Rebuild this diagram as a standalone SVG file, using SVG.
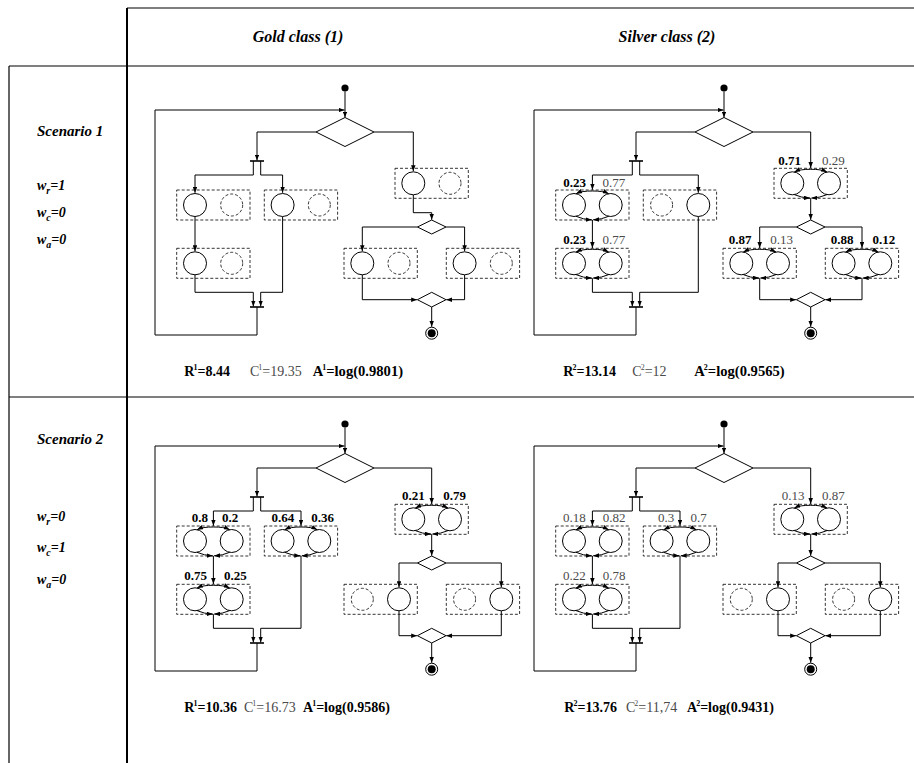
<svg xmlns="http://www.w3.org/2000/svg" xmlns:xlink="http://www.w3.org/1999/xlink" width="914" height="763" viewBox="0 0 914 763">
<style>
text{font-family:"Liberation Serif","Times New Roman",serif}
.hd{font-size:16px;font-weight:bold;font-style:italic}
.sc{font-size:15px;font-weight:bold;font-style:italic}
.wl{font-size:14px;font-weight:bold;font-style:italic}
.lb{font-size:13px;text-anchor:middle}
.b{font-weight:bold;fill:#000}
.g{fill:#4a4a4a}
.bt{font-size:14px}
.bta{font-size:14.6px}
.ln{fill:none;stroke:#000;stroke-width:1}
.ar{fill:none;stroke:#000;stroke-width:1;marker-end:url(#a)}
.bar{stroke:#000;stroke-width:1.6}
.bx{fill:none;stroke:#000;stroke-width:0.8;stroke-dasharray:3,2}
.cs{fill:#fff;stroke:#000;stroke-width:1}
.cd{fill:none;stroke:#000;stroke-width:0.8;stroke-dasharray:3,2}
.dm{fill:#fff;stroke:#000;stroke-width:1}
.tb{stroke:#000;stroke-width:1.2}
</style>
<defs>
<marker id="a" viewBox="0 0 8 6" refX="8" refY="3" markerWidth="6" markerHeight="4.5" orient="auto" markerUnits="userSpaceOnUse"><path d="M0,0 L8,3 L0,6 z" fill="#000"/></marker>
<g id="sL"><rect class="bx" x="0" y="0" width="73.3" height="30"/><circle class="cs" cx="18.3" cy="15" r="11.5"/><circle class="cd" cx="55" cy="15" r="11"/></g>
<g id="sR"><rect class="bx" x="0" y="0" width="73.3" height="30"/><circle class="cd" cx="18.3" cy="15" r="11"/><circle class="cs" cx="55" cy="15" r="11.5"/></g>
<g id="dbl"><rect class="bx" x="0" y="0" width="73.3" height="30"/><circle class="cs" cx="18.3" cy="15" r="11.5"/><circle class="cs" cx="55" cy="15" r="11.5"/>
<path class="ar" d="M36.7,1 Q26.3,0.8 20.3,3.7"/><path class="ar" d="M36.7,1 Q47,0.8 53,3.7"/><path class="ar" d="M20.3,26.3 Q27.3,29.5 36,29.8"/><path class="ar" d="M53,26.3 Q46,29.5 37.4,29.8"/></g>
<g id="endn"><circle cx="0" cy="0" r="6" fill="#fff" stroke="#000" stroke-width="1"/><circle cx="0" cy="0" r="4" fill="#000"/></g>
</defs>
<rect x="0" y="0" width="914" height="763" fill="#fff"/>
<g id="table">
<line class="tb" x1="127" y1="8" x2="914" y2="8"/>
<line class="tb" x1="9" y1="66" x2="914" y2="66"/>
<line class="tb" x1="9" y1="397" x2="914" y2="397"/>
<line class="tb" x1="9" y1="66" x2="9" y2="763"/>
<line x1="127" y1="8" x2="127" y2="763" stroke="#000" stroke-width="2"/>
</g>
<g id="headers">
<text class="hd" x="298" y="42" text-anchor="middle">Gold class (1)</text>
<text class="hd" x="667" y="42" text-anchor="middle">Silver class (2)</text>
<text class="sc" x="37" y="136">Scenario 1</text>
<text class="wl" x="37" y="190">w<tspan font-size="10" dy="4">r</tspan><tspan dy="-4">=1</tspan></text>
<text class="wl" x="37" y="217">w<tspan font-size="10" dy="4">c</tspan><tspan dy="-4">=0</tspan></text>
<text class="wl" x="37" y="244">w<tspan font-size="10" dy="4">a</tspan><tspan dy="-4">=0</tspan></text>
<text class="sc" x="37" y="444">Scenario 2</text>
<text class="wl" x="37" y="521">w<tspan font-size="10" dy="4">r</tspan><tspan dy="-4">=0</tspan></text>
<text class="wl" x="37" y="552">w<tspan font-size="10" dy="4">c</tspan><tspan dy="-4">=1</tspan></text>
<text class="wl" x="37" y="584">w<tspan font-size="10" dy="4">a</tspan><tspan dy="-4">=0</tspan></text>
</g>

<!-- Panel 1: Gold, scenario 1 -->
<g id="p1">
<g id="p1-connectors">
<path class="ar" d="M345,91.5 V117.5"/>
<path class="ar" d="M257,307 V335 H155 V110 H344.5"/>
<path class="ar" d="M316,132 H257 V160.5"/>
<path class="ar" d="M253.3,161 V175 H195 V192.8"/>
<path class="ar" d="M260.7,161 V175 H282.6 V192.8"/>
<path class="ar" d="M195,216.5 V251.3"/>
<path class="ar" d="M195,274.8 V292.3 H253.3 V306.5"/>
<path class="ar" d="M282.6,216.5 V292.3 H260.7 V306.5"/>
<path class="ar" d="M374,132 H413.3 V171.3"/>
<path class="ar" d="M413.3,194.8 V212.7 H431.7 V219.8"/>
<path class="ar" d="M417.4,227 H362.3 V251.3"/>
<path class="ar" d="M446,227 H464.6 V251.3"/>
<path class="ar" d="M362.3,274.8 V299.7 H417.2"/>
<path class="ar" d="M464.6,274.8 V299.7 H446.2"/>
<path class="ar" d="M431.7,307 V326.8"/>
<line class="bar" x1="250" y1="161" x2="264" y2="161"/>
<line class="bar" x1="250" y1="307" x2="264" y2="307"/>
</g>
<g id="p1-start"><circle cx="345" cy="88" r="3.6" fill="#000"/></g>
<g id="p1-dec"><polygon class="dm" points="345,117.5 374,132 345,146.5 316,132"/></g>
<g id="p1-A"><use xlink:href="#sL" x="176.7" y="190"/></g>
<g id="p1-B"><use xlink:href="#sL" x="264.3" y="190"/></g>
<g id="p1-C"><use xlink:href="#sL" x="176.7" y="248.3"/></g>
<g id="p1-D"><use xlink:href="#sL" x="395" y="168.3"/></g>
<g id="p1-E"><use xlink:href="#sL" x="344" y="248.3"/></g>
<g id="p1-F"><use xlink:href="#sL" x="446.3" y="248.3"/></g>
<g id="p1-dec2"><polygon class="dm" points="431.7,220 446,227 431.7,234 417.4,227"/></g>
<g id="p1-merge"><polygon class="dm" points="431.7,292.3 446,299.7 431.7,307 417.4,299.7"/></g>
<g id="p1-end"><use xlink:href="#endn" x="431.7" y="333.2"/></g>
<g id="p1-metrics">
<text class="bt b" x="184.3" y="376">R<tspan font-size="8" dx="-1" dy="-6">1</tspan><tspan dy="6">=8.44</tspan></text>
<text class="bt g" x="250" y="376">C<tspan font-size="8" dx="-1" dy="-6">1</tspan><tspan dy="6">=19.35</tspan></text>
<text class="bta b" x="312.7" y="376">A<tspan font-size="8" dx="-1" dy="-6">1</tspan><tspan dy="6">=log(0.9801)</tspan></text>
</g>
</g>

<!-- Panel 2: Silver, scenario 1 -->
<g id="p2" transform="translate(379,0)">
<g id="p2-connectors">
<path class="ar" d="M345,91.5 V117.5"/>
<path class="ar" d="M257,307 V335 H155 V110 H344.5"/>
<path class="ar" d="M316,132 H257 V160.5"/>
<path class="ar" d="M253.3,161 V175 H213.4 V189.8"/>
<path class="ar" d="M260.7,161 V175 H319.3 V192.8"/>
<path class="ar" d="M213.4,220 V248"/>
<path class="ar" d="M213.4,278.3 V292.3 H253.3 V306.5"/>
<path class="ar" d="M319.3,216.5 V292.3 H260.7 V306.5"/>
<path class="ar" d="M374,132 H431.7 V168"/>
<path class="ar" d="M431.7,198.3 V219.8"/>
<path class="ar" d="M417.4,227 H380.7 V248"/>
<path class="ar" d="M446,227 H483 V248"/>
<path class="ar" d="M380.7,278.3 V299.7 H417.2"/>
<path class="ar" d="M483,278.3 V299.7 H446.2"/>
<path class="ar" d="M431.7,307 V326.8"/>
<line class="bar" x1="250" y1="161" x2="264" y2="161"/>
<line class="bar" x1="250" y1="307" x2="264" y2="307"/>
</g>
<g id="p2-start"><circle cx="345" cy="88" r="3.6" fill="#000"/></g>
<g id="p2-dec"><polygon class="dm" points="345,117.5 374,132 345,146.5 316,132"/></g>
<g id="p2-A"><use xlink:href="#dbl" x="176.7" y="190"/><text class="lb b" x="195.5" y="186.5">0.23</text><text class="lb g" x="234.8" y="186.5">0.77</text></g>
<g id="p2-B"><use xlink:href="#sR" x="264.3" y="190"/></g>
<g id="p2-C"><use xlink:href="#dbl" x="176.7" y="248.3"/><text class="lb b" x="195.5" y="244.3">0.23</text><text class="lb g" x="234.8" y="244.3">0.77</text></g>
<g id="p2-D"><use xlink:href="#dbl" x="395" y="168.3"/><text class="lb b" x="410.5" y="164.5">0.71</text><text class="lb g" x="454.3" y="164.5">0.29</text></g>
<g id="p2-E"><use xlink:href="#dbl" x="344" y="248.3"/><text class="lb b" x="361" y="244.3">0.87</text><text class="lb g" x="402.7" y="244.3">0.13</text></g>
<g id="p2-F"><use xlink:href="#dbl" x="446.3" y="248.3"/><text class="lb b" x="463.2" y="244.3">0.88</text><text class="lb b" x="504.8" y="244.3">0.12</text></g>
<g id="p2-dec2"><polygon class="dm" points="431.7,220 446,227 431.7,234 417.4,227"/></g>
<g id="p2-merge"><polygon class="dm" points="431.7,292.3 446,299.7 431.7,307 417.4,299.7"/></g>
<g id="p2-end"><use xlink:href="#endn" x="431.7" y="333.2"/></g>
<g id="p2-metrics">
<text class="bt b" x="184.3" y="376">R<tspan font-size="8" dx="-1" dy="-6">2</tspan><tspan dy="6">=13.14</tspan></text>
<text class="bt g" x="253.3" y="376">C<tspan font-size="8" dx="-1" dy="-6">2</tspan><tspan dy="6">=12</tspan></text>
<text class="bta b" x="315.3" y="376">A<tspan font-size="8" dx="-1" dy="-6">2</tspan><tspan dy="6">=log(0.9565)</tspan></text>
</g>
</g>

<!-- Panel 3: Gold, scenario 2 -->
<g id="p3" transform="translate(0,336)">
<g id="p3-connectors">
<path class="ar" d="M345,91.5 V117.5"/>
<path class="ar" d="M257,307 V335 H155 V110 H344.5"/>
<path class="ar" d="M316,132 H257 V160.5"/>
<path class="ar" d="M253.3,161 V175 H213.4 V189.8"/>
<path class="ar" d="M260.7,161 V175 H301 V189.8"/>
<path class="ar" d="M213.4,220 V248"/>
<path class="ar" d="M213.4,278.3 V292.3 H253.3 V306.5"/>
<path class="ar" d="M301,220 V292.3 H260.7 V306.5"/>
<path class="ar" d="M374,132 H431.7 V168"/>
<path class="ar" d="M431.7,198.3 V219.8"/>
<path class="ar" d="M417.4,227 H399 V251.3"/>
<path class="ar" d="M446,227 H501.3 V251.3"/>
<path class="ar" d="M399,274.8 V299.7 H417.2"/>
<path class="ar" d="M501.3,274.8 V299.7 H446.2"/>
<path class="ar" d="M431.7,307 V326.8"/>
<line class="bar" x1="250" y1="161" x2="264" y2="161"/>
<line class="bar" x1="250" y1="307" x2="264" y2="307"/>
</g>
<g id="p3-start"><circle cx="345" cy="88" r="3.6" fill="#000"/></g>
<g id="p3-dec"><polygon class="dm" points="345,117.5 374,132 345,146.5 316,132"/></g>
<g id="p3-A"><use xlink:href="#dbl" x="176.7" y="190"/><text class="lb b" x="199.8" y="186">0.8</text><text class="lb b" x="230" y="186">0.2</text></g>
<g id="p3-B"><use xlink:href="#dbl" x="264.3" y="190"/><text class="lb b" x="282.8" y="186">0.64</text><text class="lb b" x="322.5" y="186">0.36</text></g>
<g id="p3-C"><use xlink:href="#dbl" x="176.7" y="248.3"/><text class="lb b" x="195.5" y="244.3">0.75</text><text class="lb b" x="235.3" y="244.3">0.25</text></g>
<g id="p3-D"><use xlink:href="#dbl" x="395" y="168.3"/><text class="lb b" x="413.3" y="164">0.21</text><text class="lb b" x="454.7" y="164">0.79</text></g>
<g id="p3-E"><use xlink:href="#sR" x="344" y="248.3"/></g>
<g id="p3-F"><use xlink:href="#sR" x="446.3" y="248.3"/></g>
<g id="p3-dec2"><polygon class="dm" points="431.7,220 446,227 431.7,234 417.4,227"/></g>
<g id="p3-merge"><polygon class="dm" points="431.7,292.3 446,299.7 431.7,307 417.4,299.7"/></g>
<g id="p3-end"><use xlink:href="#endn" x="431.7" y="333.2"/></g>
<g id="p3-metrics">
<text class="bt b" x="184.3" y="376">R<tspan font-size="8" dx="-1" dy="-6">1</tspan><tspan dy="6">=10.36</tspan></text>
<text class="bt g" x="244" y="376">C<tspan font-size="8" dx="-1" dy="-6">1</tspan><tspan dy="6">=16.73</tspan></text>
<text class="bt b" x="303" y="376">A<tspan font-size="8" dx="-1" dy="-6">1</tspan><tspan dy="6">=log(0.9586)</tspan></text>
</g>
</g>

<!-- Panel 4: Silver, scenario 2 -->
<g id="p4" transform="translate(379,336)">
<g id="p4-connectors">
<path class="ar" d="M345,91.5 V117.5"/>
<path class="ar" d="M257,307 V335 H155 V110 H344.5"/>
<path class="ar" d="M316,132 H257 V160.5"/>
<path class="ar" d="M253.3,161 V175 H213.4 V189.8"/>
<path class="ar" d="M260.7,161 V175 H301 V189.8"/>
<path class="ar" d="M213.4,220 V248"/>
<path class="ar" d="M213.4,278.3 V292.3 H253.3 V306.5"/>
<path class="ar" d="M301,220 V292.3 H260.7 V306.5"/>
<path class="ar" d="M374,132 H431.7 V168"/>
<path class="ar" d="M431.7,198.3 V219.8"/>
<path class="ar" d="M417.4,227 H399 V251.3"/>
<path class="ar" d="M446,227 H501.3 V251.3"/>
<path class="ar" d="M399,274.8 V299.7 H417.2"/>
<path class="ar" d="M501.3,274.8 V299.7 H446.2"/>
<path class="ar" d="M431.7,307 V326.8"/>
<line class="bar" x1="250" y1="161" x2="264" y2="161"/>
<line class="bar" x1="250" y1="307" x2="264" y2="307"/>
</g>
<g id="p4-start"><circle cx="345" cy="88" r="3.6" fill="#000"/></g>
<g id="p4-dec"><polygon class="dm" points="345,117.5 374,132 345,146.5 316,132"/></g>
<g id="p4-A"><use xlink:href="#dbl" x="176.7" y="190"/><text class="lb g" x="195.3" y="186">0.18</text><text class="lb g" x="235.2" y="186">0.82</text></g>
<g id="p4-B"><use xlink:href="#dbl" x="264.3" y="190"/><text class="lb g" x="287" y="186">0.3</text><text class="lb g" x="319.7" y="186">0.7</text></g>
<g id="p4-C"><use xlink:href="#dbl" x="176.7" y="248.3"/><text class="lb g" x="195.3" y="244.3">0.22</text><text class="lb g" x="235.2" y="244.3">0.78</text></g>
<g id="p4-D"><use xlink:href="#dbl" x="395" y="168.3"/><text class="lb g" x="414" y="164">0.13</text><text class="lb g" x="454.3" y="164">0.87</text></g>
<g id="p4-E"><use xlink:href="#sR" x="344" y="248.3"/></g>
<g id="p4-F"><use xlink:href="#sR" x="446.3" y="248.3"/></g>
<g id="p4-dec2"><polygon class="dm" points="431.7,220 446,227 431.7,234 417.4,227"/></g>
<g id="p4-merge"><polygon class="dm" points="431.7,292.3 446,299.7 431.7,307 417.4,299.7"/></g>
<g id="p4-end"><use xlink:href="#endn" x="431.7" y="333.2"/></g>
<g id="p4-metrics">
<text class="bt b" x="185.3" y="376">R<tspan font-size="8" dx="-1" dy="-6">2</tspan><tspan dy="6">=13.76</tspan></text>
<text class="bt g" x="247" y="376">C<tspan font-size="8" dx="-1" dy="-6">2</tspan><tspan dy="6">=11,74</tspan></text>
<text class="bt b" x="308" y="376">A<tspan font-size="8" dx="-1" dy="-6">2</tspan><tspan dy="6">=log(0.9431)</tspan></text>
</g>
</g>
</svg>
